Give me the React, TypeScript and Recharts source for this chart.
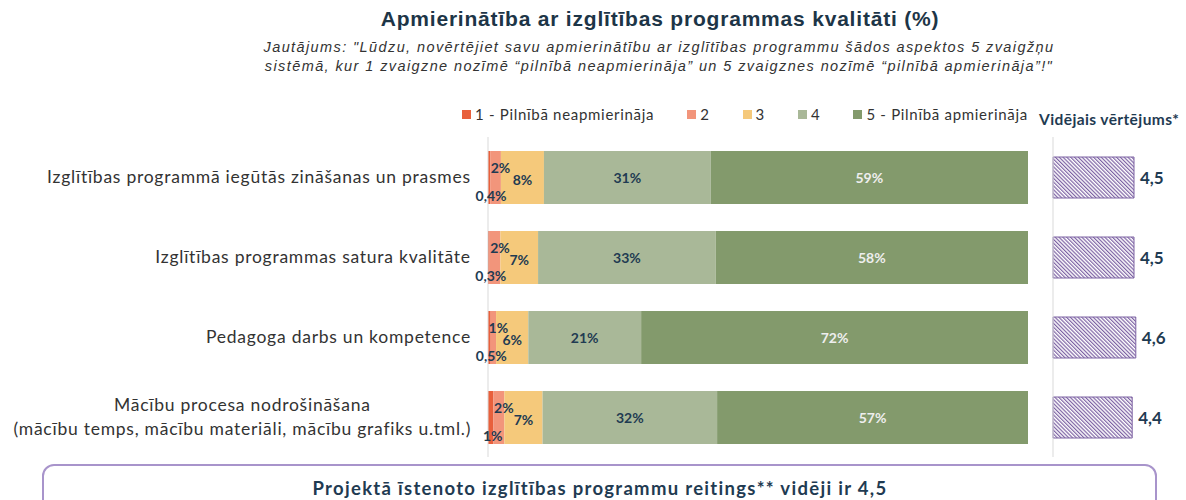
import React from "react";
import { BarChart, Bar, XAxis, YAxis, LabelList, Legend } from "recharts";

const categories = [
  "Izglītības programmā iegūtās zināšanas un prasmes",
  "Izglītības programmas satura kvalitāte",
  "Pedagoga darbs un kompetence",
  "Mācību procesa nodrošināšana\n(mācību temps, mācību materiāli, mācību grafiks u.tml.)",
];
const seriesNames = ["1 - Pilnībā neapmierināja", "2", "3", "4", "5 - Pilnībā apmierināja"];
const s1 = [0.4, 0.3, 0.5, 1];
const s2 = [2, 2, 1, 2];
const s3 = [8, 7, 6, 7];
const s4 = [31, 33, 21, 32];
const s5 = [59, 58, 72, 57];
const averages = [4.5, 4.5, 4.6, 4.4];

const COLORS = ["#e8603c", "#f2957b", "#f5c97b", "#a9b898", "#839a6c"];
const KEYS = ["s1", "s2", "s3", "s4", "s5"];
const DARK = "#1f3b52";
const PURPLE = "#7d62a3";
const CAT_FONT = "Lato, sans-serif";
const CAT_SIZE = 17.5;
const CAT_LS = 0.75;

const data = categories.map((name, i) => ({
  name,
  s1: s1[i],
  s2: s2[i],
  s3: s3[i],
  s4: s4[i],
  s5: s5[i],
}));
const avgData = categories.map((name, i) => ({ name, avg: averages[i] }));

const pct = (v: number) => `${String(v).replace(".", ",")}%`;

const measure = (text: string, font: string, ls: number) => {
  const ctx = document.createElement("canvas").getContext("2d");
  if (!ctx) return text.length * 9;
  ctx.font = font;
  return ctx.measureText(text).width + text.length * ls;
};

function makeLabel(idx: number) {
  return (props: any) => {
    const { x, y, width, height, value } = props;
    let tx = x + width / 2;
    let ty = y + height / 2 + 5;
    let fill = DARK;
    if (idx === 0) {
      tx = x + width / 2 + 2;
      ty = y + height - 3;
    } else if (idx === 1) {
      tx = x + width / 2 + 5;
      ty = y + 22;
    } else if (idx === 2) {
      ty = y + height / 2 + 7;
    } else if (idx === 4) {
      fill = "#eeeeee";
    }
    return (
      <text x={tx} y={ty} textAnchor="middle" fill={fill} fontFamily={CAT_FONT} fontSize={14} fontWeight={700}>
        {pct(value)}
      </text>
    );
  };
}

const CategoryTick = (props: any) => {
  const { x, y, payload } = props;
  const lines = String(payload.value).split("\n");
  const font = `${CAT_SIZE}px ${CAT_FONT}`;
  const maxW = Math.max(...lines.map((l) => measure(l, font, CAT_LS)));
  const cx = x - maxW / 2;
  const start = y - ((lines.length - 1) * 24) / 2;
  return (
    <text textAnchor="middle" fill="#333333" fontFamily={CAT_FONT} fontSize={CAT_SIZE} letterSpacing={CAT_LS}>
      {lines.map((l, i) => (
        <tspan key={i} x={cx} y={start + i * 24} dy="0.35em">
          {l}
        </tspan>
      ))}
    </text>
  );
};

const LegendBox = () => (
  <div
    style={{
      display: "flex",
      gap: 33,
      fontFamily: CAT_FONT,
      fontSize: 15,
      letterSpacing: 0.7,
      color: "#333",
      whiteSpace: "nowrap",
    }}
  >
    {seriesNames.map((n, i) => (
      <div key={n} style={{ display: "flex", alignItems: "center" }}>
        <span style={{ width: 9, height: 9, background: COLORS[i], display: "inline-block", marginRight: 4 }} />
        {n}
      </div>
    ))}
  </div>
);

export default function App() {
  return (
    <div style={{ position: "absolute", left: 0, top: 0, width: 1186, height: 500, background: "#fff", overflow: "hidden" }}>
      <svg width={0} height={0} style={{ position: "absolute" }}>
        <defs>
          <pattern id="hatch" patternUnits="userSpaceOnUse" width={2.7} height={2.7} patternTransform="rotate(-45)">
            <rect width={2.7} height={2.7} fill="#ffffff" />
            <line x1={0.6} y1={0} x2={0.6} y2={2.7} stroke={PURPLE} strokeWidth={1.2} />
          </pattern>
        </defs>
      </svg>

      <div
        style={{
          position: "absolute",
          left: 660,
          top: 7,
          transform: "translateX(-50%)",
          whiteSpace: "nowrap",
          fontFamily: "'Liberation Sans', Arial, sans-serif",
          fontWeight: 700,
          fontSize: 21,
          letterSpacing: 0.8,
          color: "#1d3547",
        }}
      >
        Apmierinātība ar izglītības programmas kvalitāti (%)
      </div>
      <div
        style={{
          position: "absolute",
          left: 659,
          top: 38,
          transform: "translateX(-50%)",
          whiteSpace: "nowrap",
          textAlign: "center",
          fontFamily: "'Liberation Sans', Arial, sans-serif",
          fontStyle: "italic",
          fontSize: 14.5,
          lineHeight: "19px",
          letterSpacing: 1.4,
          color: "#333",
        }}
      >
        Jautājums: "Lūdzu, novērtējiet savu apmierinātību ar izglītības programmu šādos aspektos 5 zvaigžņu
        <br />
        sistēmā, kur 1 zvaigzne nozīmē “pilnībā neapmierināja” un 5 zvaigznes nozīmē “pilnībā apmierināja”!"
      </div>

      <div style={{ position: "absolute", left: 0, top: 95 }}>
        <BarChart
          width={1040}
          height={370}
          data={data}
          layout="vertical"
          stackOffset="expand"
          margin={{ top: 42, right: 12, bottom: 8, left: 0 }}
        >
          <XAxis type="number" hide domain={[0, 1]} />
          <YAxis
            type="category"
            dataKey="name"
            width={488}
            axisLine={{ stroke: "#d9d9d9" }}
            tickLine={false}
            tickMargin={11}
            tick={<CategoryTick />}
            interval={0}
          />
          <Legend
            verticalAlign="middle"
            align="center"
            wrapperStyle={{ top: 10, left: 462, width: "auto" }}
            content={() => <LegendBox />}
          />
          {KEYS.map((k, i) => (
            <Bar key={k} dataKey={k} name={seriesNames[i]} stackId="a" fill={COLORS[i]} barSize={53} isAnimationActive={false}>
              <LabelList dataKey={k} content={makeLabel(i)} />
            </Bar>
          ))}
        </BarChart>
      </div>

      <div
        style={{
          position: "absolute",
          left: 1039,
          top: 110,
          whiteSpace: "nowrap",
          fontFamily: CAT_FONT,
          fontWeight: 700,
          fontSize: 15.5,
          letterSpacing: 0.4,
          color: DARK,
        }}
      >
        Vidējais vērtējums*
      </div>

      <div style={{ position: "absolute", left: 1000, top: 95 }}>
        <BarChart
          width={186}
          height={370}
          data={avgData}
          layout="vertical"
          margin={{ top: 42, right: 43, bottom: 8, left: 0 }}
        >
          <XAxis type="number" hide domain={[0, 5]} />
          <YAxis type="category" dataKey="name" width={53} axisLine={{ stroke: "#d9d9d9" }} tickLine={false} tick={false} />
          <Bar dataKey="avg" fill="url(#hatch)" stroke={PURPLE} strokeWidth={1} barSize={41} isAnimationActive={false}>
            <LabelList
              dataKey="avg"
              position="right"
              offset={6}
              formatter={(v: any) => String(Number(v).toFixed(1)).replace(".", ",")}
              style={{ fontFamily: CAT_FONT, fontWeight: 700, fontSize: 17, fill: DARK }}
            />
          </Bar>
        </BarChart>
      </div>

      <div
        style={{
          position: "absolute",
          left: 42,
          top: 464,
          width: 1115,
          height: 60,
          border: "2.5px solid #a894cb",
          borderRadius: 12,
          boxSizing: "border-box",
        }}
      />
      <div
        style={{
          position: "absolute",
          left: 600,
          top: 477,
          transform: "translateX(-50%)",
          whiteSpace: "nowrap",
          fontFamily: CAT_FONT,
          fontWeight: 700,
          fontSize: 18.5,
          letterSpacing: 1.3,
          color: DARK,
        }}
      >
        Projektā īstenoto izglītības programmu reitings** vidēji ir 4,5
      </div>
    </div>
  );
}
